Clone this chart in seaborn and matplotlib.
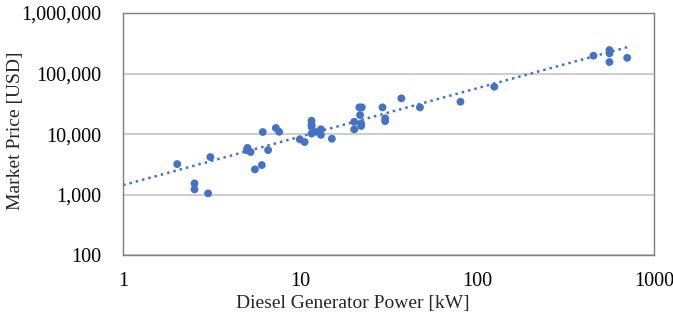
import numpy as np
import pandas as pd
import matplotlib
matplotlib.use("Agg")
import matplotlib.pyplot as plt
import matplotlib.ticker as mticker
import seaborn as sns

power_kw = [2.02, 2.53, 2.53, 3.02, 3.11, 5.0, 5.04, 5.25, 5.55, 6.07, 6.15, 6.59,
            7.29, 7.61, 9.96, 10.6, 11.6, 11.6, 11.6, 11.6, 12.1, 13.1, 13.1,
            15.1, 20.2, 20.2, 21.6, 22.3, 21.8, 22.1, 22.1, 29.2, 30.2, 30.2,
            37.3, 47.5, 80.5, 125, 454, 559, 559, 559, 704]
price_usd = [3190, 1530, 1220, 1050, 4170, 5400, 5900, 5050, 2610, 3070, 10800, 5440,
             12600, 10900, 8170, 7380, 16600, 14100, 13200, 10200, 10900, 12000, 9700,
             8360, 15960, 11960, 27600, 27600, 20600, 15000, 13600, 27600, 18200, 16400,
             38900, 27600, 34200, 60500, 197000, 244000, 216000, 155000, 182000]

# power trendline: price = coef * power ** exp
trend_coef = 1435
trend_exp = 0.80

y_ticks = [100, 1000, 10000, 100000, 1000000]
x_ticks = [1, 10, 100, 1000]

df = pd.DataFrame({"power": power_kw, "price": price_usd})

sns.set_style("white")
plt.rcParams["font.family"] = ["Liberation Serif", "DejaVu Serif"]

fig = plt.figure(figsize=(6.73, 3.25), dpi=100)
ax = fig.add_axes([0.183, 0.215, 0.789, 0.745])

blue = "#4472C4"
ax.set_xscale("log")
ax.set_yscale("log")

xt = np.logspace(0, np.log10(max(power_kw)), 200)
ax.plot(xt, trend_coef * xt ** trend_exp, linestyle=(0, (1, 1.6)), color=blue,
        lw=1.8, zorder=2)

sns.scatterplot(data=df, x="power", y="price", ax=ax, color=blue, s=32,
                edgecolor="none", zorder=3)

ax.set_xlim(1, 1000)
ax.set_ylim(100, 1000000)
ax.set_xticks(x_ticks)
ax.set_xticklabels([str(v) for v in x_ticks])
ax.set_yticks(y_ticks)
ax.set_yticklabels([f"{v:,}" for v in y_ticks])
ax.yaxis.set_minor_locator(mticker.NullLocator())
ax.xaxis.set_minor_locator(mticker.LogLocator(base=10, subs=np.arange(2, 10)))
ax.xaxis.set_minor_formatter(mticker.NullFormatter())

ax.grid(axis="y", which="major", color="#c8c8c8", lw=1.3, zorder=0)
ax.set_axisbelow(True)
for s in ax.spines.values():
    s.set_color("#7f7f7f")
    s.set_linewidth(1.0)

ax.tick_params(axis="x", which="major", direction="inout", length=6, width=1,
               color="#595959", labelsize=14.5, pad=9)
ax.tick_params(axis="x", which="minor", direction="in", length=4, width=0.8,
               color="#595959")
ax.tick_params(axis="y", which="major", direction="out", length=4, width=1,
               color="#7f7f7f", labelsize=14.5, pad=12)
for lab in ax.get_xticklabels() + ax.get_yticklabels():
    lab.set_color("black")

ax.set_xlabel("Diesel Generator Power [kW]", fontsize=14)
ax.set_ylabel("Market Price [USD]", fontsize=14)
ax.xaxis.set_label_coords(0.432, -0.165)
ax.yaxis.set_label_coords(-0.186, 0.512)

fig.savefig("out.png", dpi=100)
